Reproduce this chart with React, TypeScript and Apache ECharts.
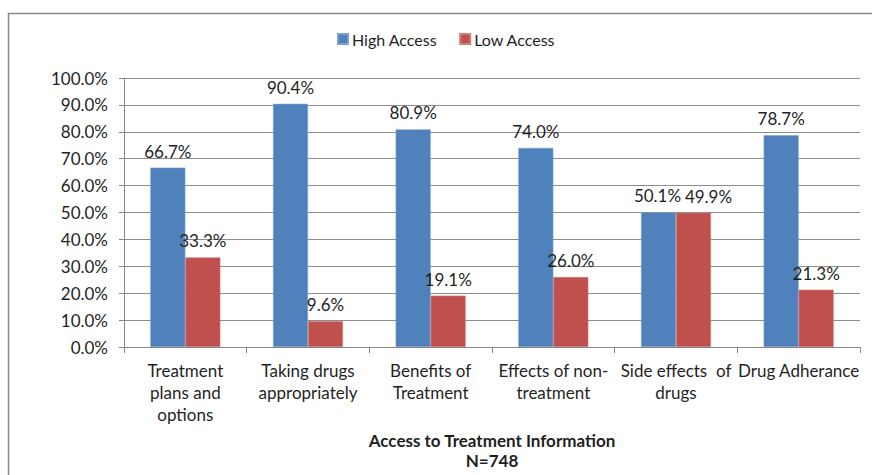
import React, { useEffect, useRef } from "react";
import * as echarts from "echarts";

const categories = [
  "Treatment\nplans and\noptions",
  "Taking drugs\nappropriately",
  "Benefits of\nTreatment",
  "Effects of non-\ntreatment",
  "Side effects  of\ndrugs",
  "Drug Adherance",
];
const highAccess = [66.7, 90.4, 80.9, 74.0, 50.1, 78.7];
const lowAccess = [33.3, 9.6, 19.1, 26.0, 49.9, 21.3];
const seriesNames = ["High Access", "Low Access"];
const axisTitle = "Access to Treatment Information\nN=748";

const FONT = "Lato, 'Open Sans', sans-serif";
const TEXT = "#1f1f1f";
const FS = 17;

export default function App() {
  const ref = useRef<HTMLDivElement>(null);

  useEffect(() => {
    if (!ref.current) return;
    const chart = echarts.init(ref.current, null, { renderer: "svg" });
    const label = {
      show: true,
      position: "top" as const,
      distance: 8,
      color: TEXT,
      fontFamily: FONT,
      fontSize: FS,
      formatter: (p: any) => `${Number(p.value).toFixed(1)}%`,
    };
    // the two nearly equal bars would put their labels on top of each other,
    // so the low-access label there is nudged to the right
    const lowData = lowAccess.map((v, i) =>
      i === 4 ? { value: v, label: { offset: [15, 0] } } : v
    );
    const highData = highAccess.map((v, i) =>
      i === 4 ? { value: v, label: { offset: [-1, 0] } } : v
    );
    chart.setOption({
      animation: false,
      backgroundColor: "#ffffff",
      textStyle: { fontFamily: FONT },
      graphic: [
        {
          type: "rect",
          shape: { x: 8.5, y: 13.5, width: 900, height: 500 },
          style: { fill: "none", stroke: "#8a8a8a", lineWidth: 1.5 },
          silent: true,
          z: -1,
        },
      ],
      legend: {
        left: 332,
        top: 26,
        itemWidth: 10,
        itemHeight: 10,
        itemGap: 22,
        icon: "rect",
        textStyle: { fontFamily: FONT, fontSize: 16, color: TEXT, padding: [0, 0, 0, -1] },
        data: seriesNames,
      },
      grid: { left: 124, right: 12, top: 78, bottom: 124, containLabel: false },
      xAxis: {
        type: "category",
        data: categories,
        name: axisTitle,
        nameLocation: "middle",
        nameGap: 83,
        nameTextStyle: {
          fontFamily: FONT,
          fontSize: FS,
          fontWeight: "bold",
          color: TEXT,
          lineHeight: 20,
        },
        axisLine: { lineStyle: { color: "#868686", width: 1 } },
        axisTick: { show: true, length: 6, alignWithLabel: false, lineStyle: { color: "#868686" } },
        axisLabel: {
          interval: 0,
          margin: 12,
          fontFamily: FONT,
          fontSize: FS,
          color: TEXT,
          lineHeight: 22,
        },
      },
      yAxis: {
        type: "value",
        min: 0,
        max: 100,
        interval: 10,
        axisLine: { show: true, lineStyle: { color: "#868686", width: 1 } },
        axisTick: { show: true, length: 5, lineStyle: { color: "#868686" } },
        splitLine: { lineStyle: { color: "#8c8c8c", width: 1 } },
        axisLabel: {
          margin: 16,
          fontFamily: FONT,
          fontSize: FS,
          color: TEXT,
          formatter: (v: number) => `${v.toFixed(1)}%`,
        },
      },
      series: [
        {
          name: seriesNames[0],
          type: "bar",
          data: highData,
          barWidth: 35,
          barGap: "0%",
          itemStyle: { color: "#4F81BD", borderColor: "#7aa0cf", borderWidth: 0.6 },
          label,
        },
        {
          name: seriesNames[1],
          type: "bar",
          data: lowData,
          barWidth: 35,
          barGap: "0%",
          itemStyle: { color: "#C0504D", borderColor: "#d27c79", borderWidth: 0.6 },
          label,
        },
      ],
    });
    return () => chart.dispose();
  }, []);

  return (
    <div
      ref={ref}
      style={{ position: "absolute", left: 0, top: 0, width: 872, height: 475 }}
    />
  );
}
